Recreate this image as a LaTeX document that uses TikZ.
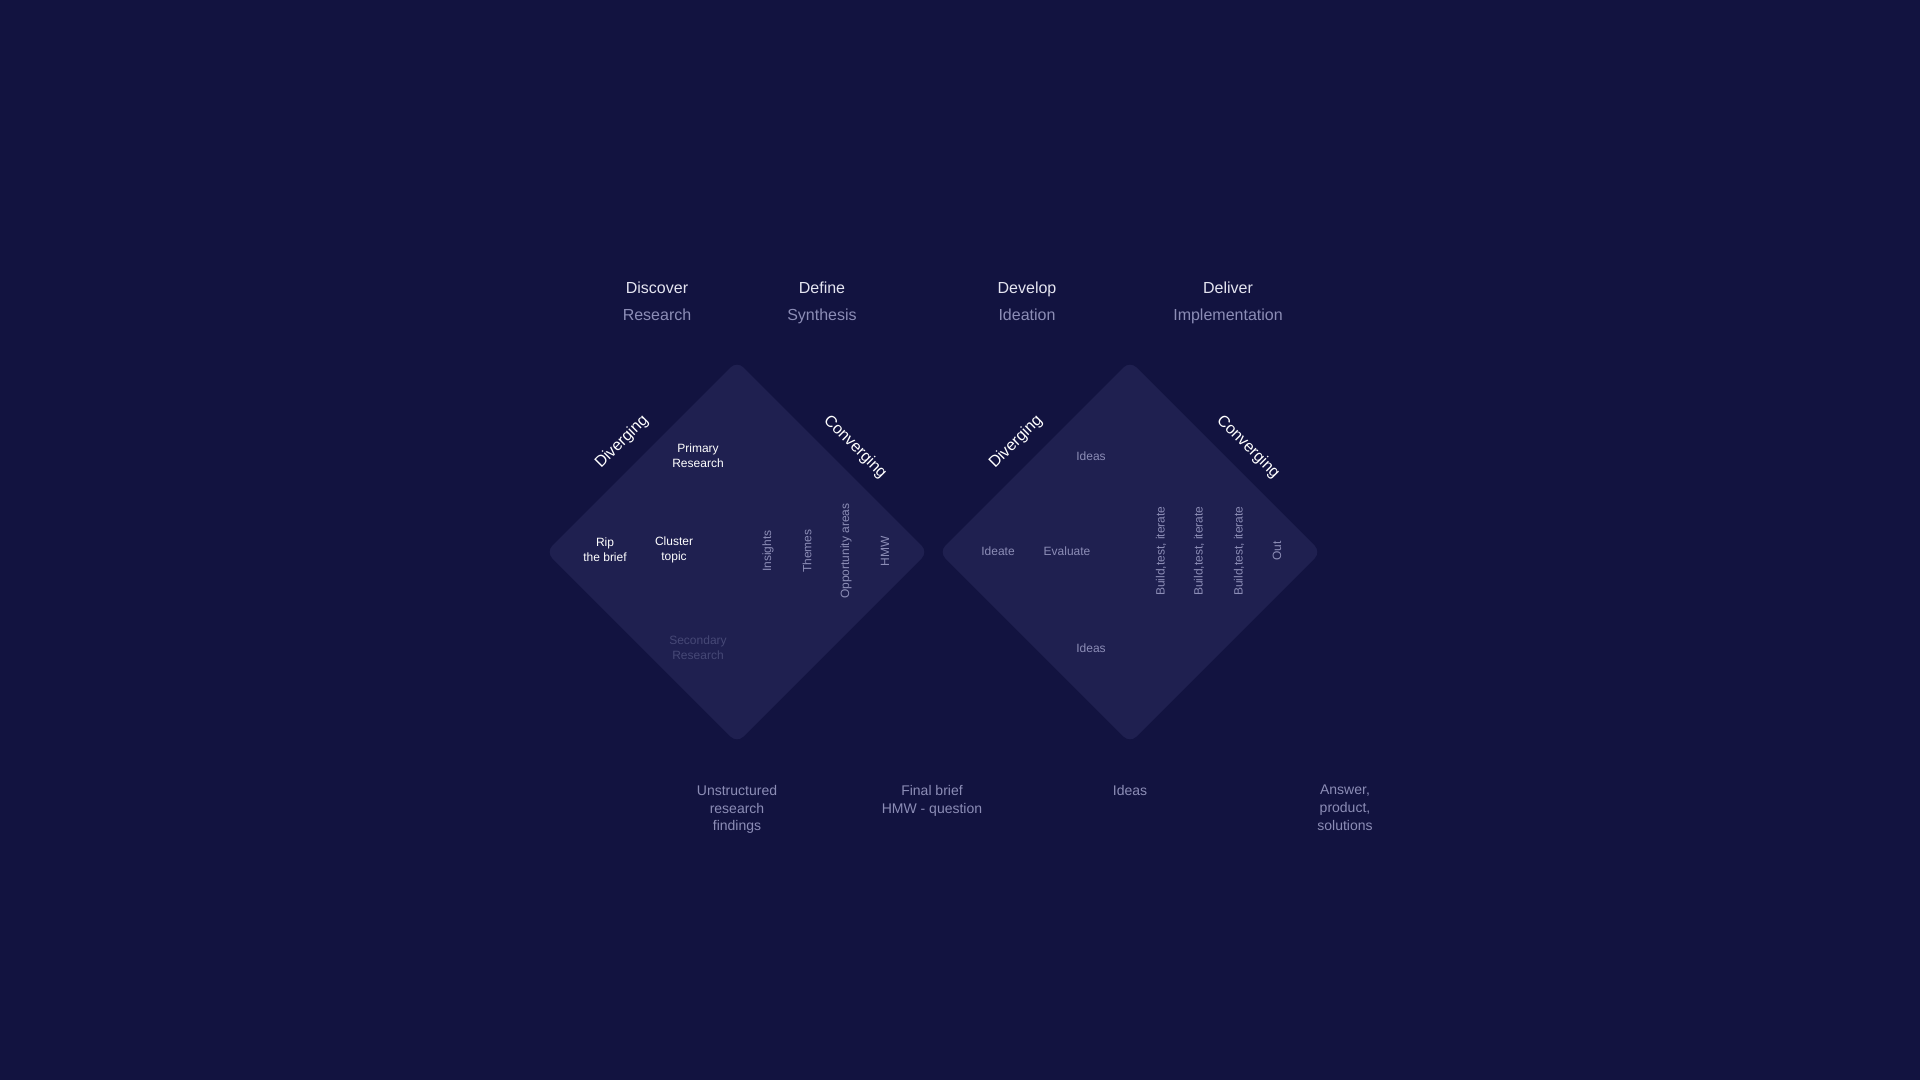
\documentclass[tikz,border=0pt]{standalone}
\usepackage{fontspec}
\setmainfont{Liberation Sans}
\usepackage{xcolor}
\usepackage{tikz}
\usetikzlibrary{positioning}
\definecolor{night}{RGB}{18,19,64}
\definecolor{panel}{RGB}{31,32,80}
\definecolor{ink}{RGB}{228,228,240}
\definecolor{muted}{RGB}{140,141,182}
\definecolor{faint}{RGB}{70,72,118}

\begin{document}
\begin{tikzpicture}[
  x=1pt, y=-1pt,
  every node/.style={inner sep=0pt},
  phase/.style={font=\fontsize{16}{19}\selectfont, text=ink, text height=11.5pt, text depth=0pt},
  sub/.style={phase, text=muted},
  dia/.style={fill=panel, rounded corners=9pt},
  dir/.style={font=\fontsize{16}{19}\selectfont, text=white},
  tag/.style={font=\fontsize{12}{15}\selectfont, text=white, align=center},
  dimtag/.style={tag, text=muted},
  vtag/.style={dimtag, rotate=90},
  outcome/.style={font=\fontsize{14}{17.8}\selectfont, text=muted, align=center}
]
\useasboundingbox (0,0) rectangle (1920,1080);
\fill[night] (0,0) rectangle (1920,1080);

% Diamonds
\fill[dia] (737,361) -- (928,552) -- (737,743) -- (546,552) -- cycle;
\fill[dia] (1130,361) -- (1321,552) -- (1130,743) -- (939,552) -- cycle;

% Phases
\node[phase] (disc) at (657,288) {Discover};
\node[sub]   (res)  at (657,315) {Research};
\node[phase] (def)  at (822,288) {Define};
\node[sub]   (syn)  at (822,315) {Synthesis};
\node[phase] (dev)  at (1027,288) {Develop};
\node[sub]   (idn)  at (1027,315) {Ideation};
\node[phase] (del)  at (1228,288) {Deliver};
\node[sub]   (imp)  at (1228,315) {Implementation};

% First diamond
\node[dir, rotate=45]  (divA) at (622,442) {Diverging};
\node[dir, rotate=-45] (conA) at (855,447) {Converging};
\node[tag] (prim) at (698,456) {Primary\\Research};
\node[tag] (rip)  at (605,550) {Rip\\the brief};
\node[tag] (clus) at (674,550) {Cluster\\topic};
\node[tag, text=faint] (sec) at (698,648) {Secondary\\Research};
\node[vtag] (ins) at (768,551) {Insights};
\node[vtag] (thm) at (807,551) {Themes};
\node[vtag] (opp) at (846,551) {Opportunity areas};
\node[vtag] (hmw) at (885,551) {HMW};

% Second diamond
\node[dir, rotate=45]  (divB) at (1016,442) {Diverging};
\node[dir, rotate=-45] (conB) at (1248,447) {Converging};
\node[dimtag] (ideaT) at (1091,456) {Ideas};
\node[dimtag] (ideat) at (998,551) {Ideate};
\node[dimtag] (eval)  at (1067,551) {Evaluate};
\node[dimtag] (ideaB) at (1091,648) {Ideas};
\node[vtag] (bti1) at (1161,551) {Build,test, iterate};
\node[vtag] (bti2) at (1199,551) {Build,test, iterate};
\node[vtag] (bti3) at (1239,551) {Build,test, iterate};
\node[vtag] (out)  at (1277,551) {Out};

% Outcomes
\node[outcome, anchor=north] (unst) at (737,785) {Unstructured\\research\\findings};
\node[outcome, anchor=north] (brief) at (932,785) {Final brief\\HMW - question};
\node[outcome, anchor=north] (ideas) at (1130,785) {Ideas};
\node[outcome, anchor=north] (ans) at (1345,785) {Answer,\\product,\\solutions};

\end{tikzpicture}
\end{document}
